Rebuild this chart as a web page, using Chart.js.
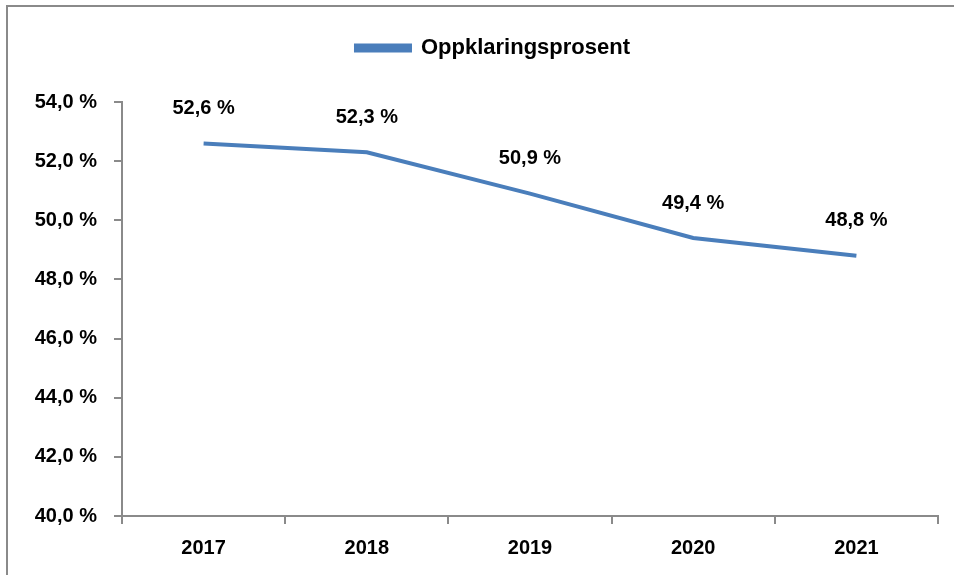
<!DOCTYPE html>
<html>
<head>
<meta charset="utf-8">
<script src="https://cdn.jsdelivr.net/npm/chart.js@4.4.1/dist/chart.umd.min.js"></script>
<style>
    html, body { margin: 0; padding: 0; background: #fff; overflow: hidden; }
    .wrap { position: relative; width: 954px; height: 575px; }
    .frame { position: absolute; left: 6px; top: 5px; width: 980px; height: 600px; border: 2px solid #8a8a8a; box-sizing: border-box; }
    canvas { position: absolute; left: 0; top: 0; }
</style>
</head>
<body>
<div class="wrap">
    <div class="frame"></div>
    <canvas id="chart" width="954" height="575"></canvas>
</div>
<script>
const years = ['2017', '2018', '2019', '2020', '2021'];
const clearanceRate = [52.6, 52.3, 50.9, 49.4, 48.8];
const seriesLabel = 'Oppklaringsprosent';

const FONT = '"Liberation Sans", Arial, sans-serif';
const BLUE = '#4a7ebb';
const AXIS_GREY = '#8a8a8a';

function pct(v) {
    return v.toFixed(1).replace('.', ',') + ' %';
}

// labels above each point
const valueLabels = {
    id: 'valueLabels',
    afterDatasetsDraw(chart) {
        const ctx = chart.ctx;
        const meta = chart.getDatasetMeta(0);
        ctx.save();
        ctx.font = 'bold 20px ' + FONT;
        ctx.fillStyle = '#000';
        ctx.textAlign = 'center';
        ctx.textBaseline = 'middle';
        meta.data.forEach((pt, i) => {
            ctx.fillText(pct(clearanceRate[i]), pt.x, pt.y - 35);
        });
        ctx.restore();
    }
};

// nudge the legend box so it sits where the original has it
const legendShift = {
    id: 'legendShift',
    afterLayout(chart) {
        const lg = chart.legend;
        if (!lg) return;
        lg.left += 24; lg.right += 24;
        lg.top -= 33; lg.bottom -= 33;
    }
};

new Chart(document.getElementById('chart'), {
    type: 'line',
    data: {
        labels: years,
        datasets: [{
            label: seriesLabel,
            data: clearanceRate,
            borderColor: BLUE,
            backgroundColor: BLUE,
            borderWidth: 4,
            pointRadius: 0,
            tension: 0,
            fill: false
        }]
    },
    options: {
        responsive: false,
        animation: false,
        layout: { padding: { top: 56, left: 0, right: 16, bottom: 0 } },
        plugins: {
            tooltip: { enabled: false },
            legend: {
                display: true,
                position: 'top',
                labels: {
                    color: '#000',
                    font: { family: FONT, size: 22, weight: 'bold' },
                    boxWidth: 54,
                    boxHeight: 5,
                    padding: 14
                }
            }
        },
        scales: {
            x: {
                offset: true,
                grid: { offset: true, drawOnChartArea: false, drawTicks: true, tickLength: 8, color: AXIS_GREY, lineWidth: 2 },
                border: { color: AXIS_GREY, width: 2 },
                ticks: { color: '#000', font: { family: FONT, size: 20, weight: 'bold' }, padding: 12, maxRotation: 0 },
                afterFit(scale) { scale.height = 59; }
            },
            y: {
                min: 40,
                max: 54,
                grid: { drawOnChartArea: false, drawTicks: true, tickLength: 8, color: AXIS_GREY, lineWidth: 2 },
                border: { color: AXIS_GREY, width: 2 },
                ticks: {
                    stepSize: 2,
                    color: '#000',
                    font: { family: FONT, size: 20, weight: 'bold' },
                    padding: 17,
                    callback: v => pct(v)
                },
                afterFit(scale) { scale.width = 122; }
            }
        }
    },
    plugins: [valueLabels, legendShift]
});
</script>
</body>
</html>
